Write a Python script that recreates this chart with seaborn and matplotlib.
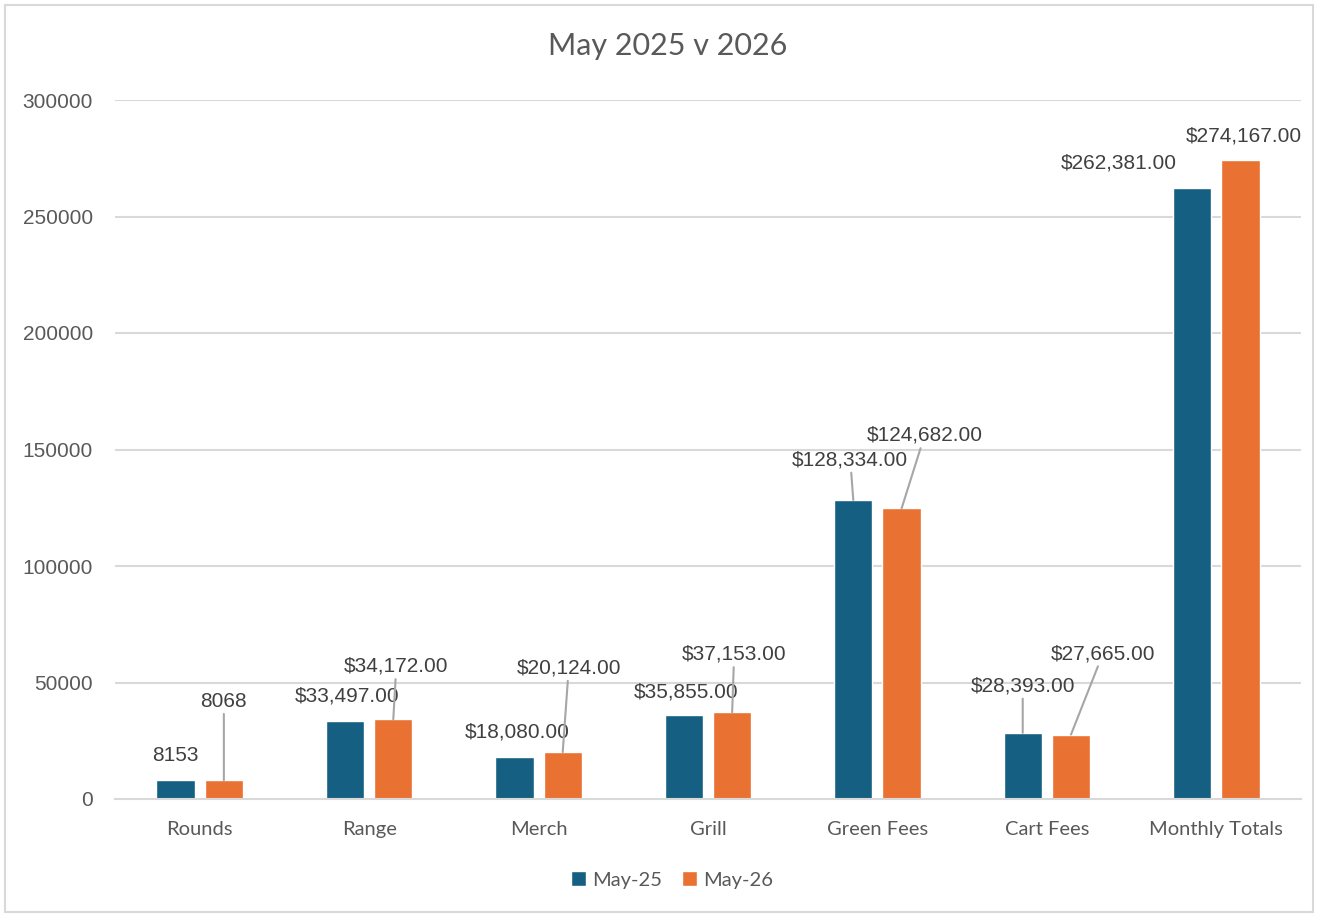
import matplotlib
matplotlib.use("Agg")
import matplotlib.pyplot as plt
import seaborn as sns
import pandas as pd
from matplotlib.patches import Rectangle

categories = ["Rounds", "Range", "Merch", "Grill", "Green Fees", "Cart Fees", "Monthly Totals"]
may25 = [8153, 33497, 18080, 35855, 128334, 28393, 262381]
may26 = [8068, 34172, 20124, 37153, 124682, 27665, 274167]
series_names = ["May-25", "May-26"]
yticks = [0, 50000, 100000, 150000, 200000, 250000, 300000]

df = pd.DataFrame({
    "Category": categories * 2,
    "Value": may25 + may26,
    "Series": [series_names[0]] * len(categories) + [series_names[1]] * len(categories),
})

def fmt(v, is_rounds):
    return f"{v}" if is_rounds else f"${v:,.2f}"

# label offsets in pixels (dx, dy) from bar top centre, and whether to draw a leader line
offs25 = [(0, 25, False), (2, 25, False), (3, 25, False), (2, 23, False), (-3, 40, True), (0, 47, True), (-73, 25, False)]
offs26 = [(0, 79, True), (3, 53, True), (6, 84, True), (2, 58, True), (23, 73, True), (32, 81, True), (3, 24, False)]

sns.set_theme(style="white")
plt.rcParams["font.family"] = ["Liberation Sans", "DejaVu Sans"]

fig = plt.figure(figsize=(13.28, 9.17), dpi=100)
ax = fig.add_axes([115/1328, 1-799/917, (1301-115)/1328, (799-100)/917])

colors = ["#156082", "#E97132"]
sns.barplot(data=df, x="Category", y="Value", hue="Series", palette=colors,
            width=0.57, gap=0.21, ax=ax, saturation=1, legend=True)

ax.set_xlim(-0.5, 6.5)
ax.set_ylim(0, 300000)
ax.set_yticks(yticks)
ax.set_yticklabels([str(t) for t in yticks])
ax.set_xlabel("")
ax.set_ylabel("")
for t in yticks[1:]:
    ax.axhline(t, color="#D9D9D9", lw=1.5, zorder=0)
ax.set_axisbelow(True)
for s in ["top", "right", "left"]:
    ax.spines[s].set_visible(False)
ax.spines["bottom"].set_color("#D9D9D9")
ax.spines["bottom"].set_linewidth(1.5)
ax.tick_params(axis="both", length=0)
ax.tick_params(axis="y", pad=16, labelsize=15, labelcolor="#595959")
ax.tick_params(axis="x", pad=16, labelsize=14.5, labelcolor="#595959")
for lab in ax.get_xticklabels():
    lab.set_fontfamily(["Lato", "DejaVu Sans"])

# data labels
containers = ax.containers
for ci, (cont, vals, offs) in enumerate(zip(containers, [may25, may26], [offs25, offs26])):
    for i, (bar, v, (dx, dy, lead)) in enumerate(zip(cont.patches, vals, offs)):
        x = bar.get_x() + bar.get_width() / 2
        y = bar.get_height()
        arrow = dict(arrowstyle="-", color="#A6A6A6", lw=1.5, shrinkA=0, shrinkB=0) if lead else None
        ax.annotate(fmt(v, i == 0), xy=(x, y), xytext=(dx, dy), textcoords="offset pixels",
                    ha="center", va="center", fontsize=15, color="#404040",
                    arrowprops=arrow, annotation_clip=False)

# legend
h, l = ax.get_legend_handles_labels()
ax.get_legend().remove()
leg = fig.legend(h, l, loc="center", bbox_to_anchor=(672/1328, 1-880/917), ncol=2, frameon=False,
                 handlelength=0.75, handleheight=0.75, handletextpad=0.3, columnspacing=1.0,
                 prop={"family": "Lato", "size": 14.5})
for t in leg.get_texts():
    t.set_color("#595959")

fig.text(668/1328, 1-46/917, "May 2025 v 2026", ha="center", va="center",
         fontsize=22, color="#595959", family="Lato")

fig.patches.append(Rectangle((5/1328, 5/917), 1308/1328, 907/917, transform=fig.transFigure,
                             fill=False, edgecolor="#D9D9D9", lw=1.5))

fig.savefig("out.png", dpi=100)
